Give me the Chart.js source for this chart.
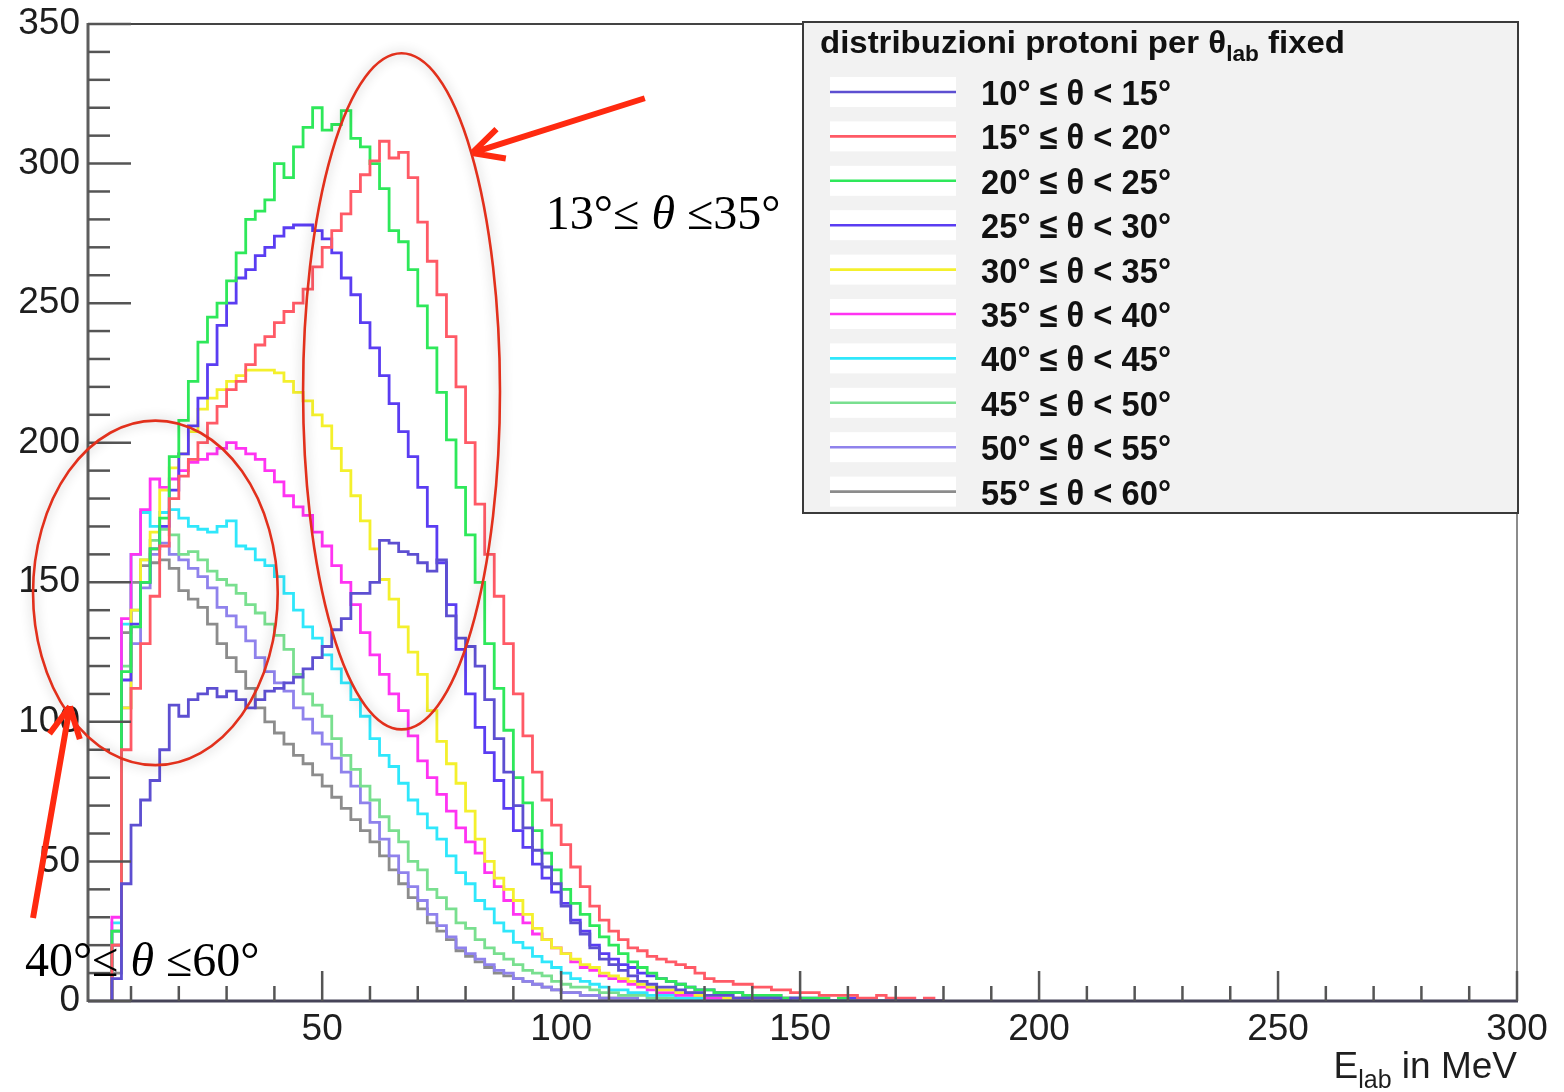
<!DOCTYPE html>
<html>
<head>
<meta charset="utf-8">
<title>distribuzioni protoni per θlab fixed</title>
<script src="https://cdn.jsdelivr.net/npm/chart.js@4.4.1/dist/chart.umd.min.js"></script>
<style>
  html, body { margin: 0; padding: 0; background: #fff; }
  canvas { display: block; }
</style>
</head>
<body>
<canvas id="spectra" width="1564" height="1092"></canvas>
<script>
// Proton energy spectra, one histogram per lab-angle slice (2 MeV bins from 6 MeV)
const BIN_START = 6;
const BIN_WIDTH = 2;
const thetaEdges = [10, 15, 20, 25, 30, 35, 40, 45, 50, 55, 60];
const xTickValues = [50, 100, 150, 200, 250, 300];
const yTickValues = [0, 50, 100, 150, 200, 250, 300, 350];

const counts10 = [
  8, 42, 63, 72, 79, 90, 106, 102, 108, 110,
  112, 109, 111, 108, 105, 108, 111, 112, 114, 116,
  119, 123, 127, 133, 137, 146, 146, 150, 165, 164,
  161, 160, 157, 154, 158, 138, 130, 127, 120, 108,
  94, 82, 70, 62, 54, 48, 42, 34, 28, 24,
  19, 15, 13, 11, 9, 7, 6, 5, 5, 4,
  3, 3, 2, 2, 2, 1, 1, 1, 1, 1,
  0, 1, 0, 0, 0, 0, 0, 0, 0, 0,
  0, 0, 0, 0, 0, 0, 0];
const counts15 = [
  20, 90, 112, 128, 145, 163, 180, 188, 194, 200,
  207, 213, 219, 222, 228, 235, 238, 243, 247, 250,
  255, 263, 270, 276, 282, 290, 296, 301, 308, 302,
  304, 295, 279, 265, 253, 238, 220, 200, 178, 160,
  145, 128, 110, 95, 82, 72, 63, 56, 48, 41,
  34, 29, 25, 22, 19, 18, 16, 15, 14, 13,
  12, 10, 8, 7, 7, 6, 6, 5, 5, 4,
  4, 3, 3, 3, 2, 2, 2, 2, 1, 1,
  2, 1, 1, 1, 0, 1, 0];
const counts20 = [
  25, 118, 134, 150, 162, 173, 195, 208, 222, 236,
  245, 250, 258, 268, 280, 283, 287, 300, 295, 306,
  313, 320, 312, 314, 319, 309, 306, 300, 291, 276,
  272, 262, 249, 234, 218, 201, 184, 167, 150, 128,
  112, 97, 80, 71, 61, 53, 47, 40, 35, 31,
  27, 23, 20, 17, 14, 12, 10, 8, 7, 6,
  5, 4, 4, 3, 3, 3, 2, 2, 2, 2,
  1, 1, 1, 1, 1, 0, 1, 0, 0, 0,
  0, 0, 0, 0, 0, 0, 0];
const counts25 = [
  20, 115, 135, 150, 162, 170, 183, 196, 206, 216,
  228, 242, 250, 259, 262, 267, 270, 274, 277, 278,
  278, 276, 273, 268, 259, 253, 243, 234, 224, 214,
  204, 195, 184, 170, 157, 142, 126, 110, 98, 89,
  79, 69, 61, 55, 49, 44, 39, 35, 29, 25,
  20, 17, 15, 13, 12, 10, 9, 8, 7, 6,
  5, 4, 4, 3, 3, 3, 2, 2, 2, 2,
  1, 1, 1, 1, 1, 0, 0, 1, 0, 0,
  0, 0, 0, 0, 0, 0, 0];
const counts30 = [
  20, 105, 140, 158, 168, 183, 191, 196, 204, 212,
  216, 219, 222, 224, 226, 226, 226, 225, 222, 218,
  215, 210, 206, 198, 190, 181, 172, 162, 151, 144,
  134, 125, 117, 104, 93, 85, 78, 68, 58, 50,
  44, 40, 36, 31, 26, 22, 19, 17, 15, 13,
  12, 10, 9, 8, 7, 6, 5, 4, 4, 3,
  3, 2, 2, 2, 1, 1, 1, 1, 1, 0,
  1, 0, 0, 0, 0, 0, 0, 0, 0, 0,
  0, 0, 0, 0, 0, 0, 0];
const counts35 = [
  30, 137, 160, 176, 187, 184, 187, 190, 193, 194,
  196, 198, 200, 198, 196, 194, 190, 186, 181, 177,
  174, 168, 163, 156, 150, 142, 132, 124, 117, 110,
  104, 95, 86, 80, 74, 68, 62, 57, 53, 46,
  41, 36, 31, 28, 24, 22, 19, 17, 14, 12,
  11, 9, 8, 7, 6, 5, 4, 3, 3, 2,
  2, 2, 1, 1, 1, 1, 1, 0, 1, 0,
  0, 0, 0, 0, 0, 0, 0, 0, 0, 0,
  0, 0, 0, 0, 0, 0, 0];
const counts40 = [
  28, 135, 160, 175, 170, 175, 176, 173, 170, 169,
  168, 170, 172, 163, 162, 158, 156, 152, 146, 140,
  134, 130, 124, 119, 114, 108, 102, 94, 88, 84,
  78, 72, 67, 62, 58, 52, 46, 42, 36, 33,
  28, 25, 21, 19, 16, 14, 12, 10, 8, 7,
  6, 5, 4, 4, 3, 3, 2, 2, 2, 1,
  1, 1, 1, 1, 0, 1, 0, 0, 0, 0,
  0, 0, 0, 0, 0, 0, 0, 0, 0, 0,
  0, 0, 0, 0, 0, 0, 0];
const counts45 = [
  25, 120, 140, 158, 165, 169, 167, 160, 161, 158,
  154, 151, 149, 146, 142, 139, 135, 131, 126, 117,
  110, 106, 102, 94, 88, 83, 77, 72, 66, 61,
  57, 50, 47, 40, 37, 33, 28, 26, 22, 19,
  17, 15, 13, 11, 10, 9, 7, 6, 5, 5,
  4, 3, 3, 2, 2, 2, 1, 1, 1, 1,
  1, 0, 1, 0, 0, 0, 0, 0, 0, 0,
  0, 0, 0, 0, 0, 0, 0, 0, 0, 0,
  0, 0, 0, 0, 0, 0, 0];
const counts50 = [
  25, 105, 128, 148, 160, 164, 160, 158, 155, 152,
  148, 141, 138, 134, 129, 123, 118, 114, 111, 105,
  101, 96, 92, 87, 82, 77, 71, 64, 58, 52,
  46, 41, 36, 31, 27, 23, 19, 17, 15, 13,
  11, 10, 8, 7, 6, 5, 4, 3, 3, 2,
  2, 1, 1, 1, 1, 0, 1, 0, 0, 0,
  0, 0, 0, 0, 0, 0, 0, 0, 0, 0,
  0, 0, 0, 0, 0, 0, 0, 0, 0, 0,
  0, 0, 0, 0, 0, 0, 0];
const counts55 = [
  10, 132, 150, 156, 157, 158, 155, 147, 144, 141,
  135, 128, 123, 118, 112, 105, 100, 96, 92, 88,
  85, 81, 77, 73, 69, 65, 61, 57, 52, 47,
  42, 37, 33, 28, 25, 22, 18, 16, 14, 12,
  10, 9, 8, 7, 6, 5, 4, 3, 3, 2,
  2, 1, 1, 1, 1, 0, 0, 1, 0, 0,
  0, 0, 0, 0, 0, 0, 0, 0, 0, 0,
  0, 0, 0, 0, 0, 0, 0, 0, 0, 0,
  0, 0, 0, 0, 0, 0, 0];

const allCounts = [counts10, counts15, counts20, counts25, counts30,
  counts35, counts40, counts45, counts50, counts55];
const lineColors = ['#5d4fd1', '#ff5a66', '#2ee85a', '#5a3df2', '#f4f02c',
  '#ff33f2', '#2fe7fb', '#79df8f', '#8f82ec', '#8c8c8c'];

// hand-drawn markup on top of the plot, in axis units (MeV, counts)
const forwardRing = { e: 66.6, n: 218.4, de: 20.6, dn: 121.1 };
const wideRing = { e: 15.1, n: 146.2, de: 25.6, dn: 61.7 };
const forwardArrow = { from: [117.5, 323.4], to: [81.4, 303.8] };
const wideArrow = { from: [-10.5, 29.7], to: [-2.8, 105.5] };
const forwardNote = { e: 96.8, n: 276.6, pre: '13°≤ ', post: ' ≤35°' };
const wideNote = { e: -12.2, n: 8.9, pre: '40°≤ ', post: ' ≤60°' };

const SANS = '"Liberation Sans", Arial, Helvetica, sans-serif';
const SERIF = '"Liberation Serif", "Times New Roman", serif';

function histogramPoints(counts) {
  const pts = [{ x: BIN_START, y: 0 }];
  counts.forEach((c, i) => pts.push({ x: BIN_START + i * BIN_WIDTH, y: c }));
  pts.push({ x: BIN_START + counts.length * BIN_WIDTH, y: 0 });
  return pts;
}

const datasets = allCounts.map((counts, i) => ({
  label: `${thetaEdges[i]}° ≤ θ < ${thetaEdges[i + 1]}°`,
  data: histogramPoints(counts),
  borderColor: lineColors[i],
  borderWidth: 2.8,
  stepped: 'before',
  fill: false,
  pointRadius: 0,
}));

// draws a run of differently styled text pieces, optionally squeezed to a width
function drawParts(ctx, parts, x, baseline, fitWidth) {
  ctx.save();
  let total = 0;
  parts.forEach((p) => {
    ctx.font = p.font;
    p.w = ctx.measureText(p.text).width;
    total += p.w;
  });
  const sx = fitWidth ? fitWidth / total : 1;
  ctx.translate(x, baseline);
  ctx.scale(sx, 1);
  let cx = 0;
  parts.forEach((p) => {
    ctx.font = p.font;
    ctx.fillText(p.text, cx, p.dy || 0);
    cx += p.w;
  });
  ctx.restore();
}

function line(ctx, x0, y0, x1, y1) {
  ctx.beginPath();
  ctx.moveTo(x0, y0);
  ctx.lineTo(x1, y1);
  ctx.stroke();
}

function drawArrow(ctx, x0, y0, x1, y1) {
  const ang = Math.atan2(y0 - y1, x0 - x1);
  ctx.beginPath();
  ctx.moveTo(x0, y0);
  ctx.lineTo(x1, y1);
  [-0.47, 0.47].forEach((d) => {
    ctx.moveTo(x1, y1);
    ctx.lineTo(x1 + 34 * Math.cos(ang + d), y1 + 34 * Math.sin(ang + d));
  });
  ctx.stroke();
}

function drawFrame(chart) {
  const { ctx, chartArea: a, scales: { x, y } } = chart;
  ctx.save();
  ctx.lineCap = 'butt';
  ctx.strokeStyle = '#666';
  ctx.lineWidth = 1.5;
  line(ctx, a.right, a.top, a.right, a.bottom);
  ctx.strokeStyle = '#444';
  ctx.lineWidth = 2;
  line(ctx, a.left, a.top, a.right, a.top);
  ctx.strokeStyle = '#5e5e5e';
  ctx.lineWidth = 3;
  line(ctx, a.left, a.top - 1, a.left, a.bottom + 1);
  ctx.strokeStyle = '#464458';
  line(ctx, a.left, a.bottom, a.right + 1, a.bottom);

  // inward ticks, ROOT style
  ctx.strokeStyle = '#555';
  ctx.lineWidth = 2.5;
  for (let v = 0; v <= 350; v += 10) {
    const py = y.getPixelForValue(v);
    line(ctx, a.left, py, a.left + (v % 50 === 0 ? 43 : 22), py);
  }
  for (let v = 10; v <= 300; v += 10) {
    const px = x.getPixelForValue(v);
    line(ctx, px, a.bottom, px, a.bottom - (v % 50 === 0 ? 30 : 15));
  }
  ctx.restore();
}

function drawAxisTitle(chart) {
  const { ctx, chartArea: a } = chart;
  ctx.save();
  ctx.fillStyle = '#1e1e1e';
  const parts = [
    { text: 'E', font: `37px ${SANS}` },
    { text: 'lab', font: `25px ${SANS}`, dy: 10 },
    { text: ' in MeV', font: `37px ${SANS}` },
  ];
  let w = 0;
  parts.forEach((p) => { ctx.font = p.font; w += ctx.measureText(p.text).width; });
  drawParts(ctx, parts, a.right - w, a.bottom + 77);
  ctx.restore();
}

function drawLegend(chart) {
  const { ctx, chartArea: a } = chart;
  const left = 803;
  const top = 22;
  const right = a.right + 1;
  const bottom = 513;
  ctx.save();
  ctx.fillStyle = '#f2f2f2';
  ctx.fillRect(left, top, right - left, bottom - top);
  ctx.strokeStyle = '#3a3a3a';
  ctx.lineWidth = 2;
  ctx.strokeRect(left, top, right - left, bottom - top);

  ctx.fillStyle = '#111';
  drawParts(ctx, [
    { text: 'distribuzioni protoni per θ', font: `bold 32px ${SANS}` },
    { text: 'lab', font: `bold 22px ${SANS}`, dy: 8 },
    { text: ' fixed', font: `bold 32px ${SANS}` },
  ], 820, 53, 525);

  chart.data.datasets.forEach((ds, i) => {
    const cy = 92 + i * 44.4;
    ctx.fillStyle = '#fff';
    ctx.fillRect(830, cy - 15, 126, 30);
    ctx.strokeStyle = ds.borderColor;
    ctx.lineWidth = 2.6;
    line(ctx, 830, cy, 956, cy);
    ctx.fillStyle = '#111';
    drawParts(ctx, [{ text: ds.label, font: `bold 35px ${SANS}` }], 981, cy + 13, 190);
  });
  ctx.restore();
}

function drawMarkup(chart) {
  const { ctx, scales: { x, y } } = chart;
  const px = (e) => x.getPixelForValue(e);
  const py = (n) => y.getPixelForValue(n);
  ctx.save();

  // rings with a soft drop shadow
  ctx.shadowColor = 'rgba(0, 0, 0, 0.3)';
  ctx.shadowBlur = 12;
  ctx.strokeStyle = '#e2301c';
  ctx.lineWidth = 2.6;
  [forwardRing, wideRing].forEach((r) => {
    const cx = px(r.e);
    const cy = py(r.n);
    ctx.beginPath();
    ctx.ellipse(cx, cy, px(r.e + r.de) - cx, cy - py(r.n + r.dn), 0, 0, Math.PI * 2);
    ctx.stroke();
  });
  ctx.shadowColor = 'transparent';
  ctx.shadowBlur = 0;

  ctx.strokeStyle = '#ff2a10';
  ctx.lineWidth = 6;
  ctx.lineJoin = 'miter';
  [forwardArrow, wideArrow].forEach((ar) => {
    drawArrow(ctx, px(ar.from[0]), py(ar.from[1]), px(ar.to[0]), py(ar.to[1]));
  });

  ctx.fillStyle = '#000';
  [forwardNote, wideNote].forEach((nt) => {
    drawParts(ctx, [
      { text: nt.pre, font: `48px ${SERIF}` },
      { text: 'θ', font: `italic 48px ${SERIF}` },
      { text: nt.post, font: `48px ${SERIF}` },
    ], px(nt.e), py(nt.n));
  });
  ctx.restore();
}

const rootStyle = {
  id: 'rootStyle',
  afterDraw(chart) {
    drawFrame(chart);
    drawAxisTitle(chart);
    drawLegend(chart);
    drawMarkup(chart);
  },
};

const tickFont = { family: SANS, size: 37, lineHeight: 1.2 };

new Chart(document.getElementById('spectra'), {
  type: 'line',
  data: { datasets },
  options: {
    responsive: false,
    animation: false,
    devicePixelRatio: 1,
    events: [],
    layout: { padding: { top: 24, right: 47, bottom: 0, left: 0 } },
    plugins: { legend: { display: false }, tooltip: { enabled: false } },
    elements: { line: { tension: 0 } },
    scales: {
      x: {
        type: 'linear',
        min: 1,
        max: 300,
        grid: { display: false, drawTicks: false },
        border: { display: false },
        afterBuildTicks: (s) => { s.ticks = xTickValues.map((value) => ({ value })); },
        afterFit: (s) => {
          s.height = 91;
          s.paddingLeft = 0;
          s.paddingRight = 0;
        },
        ticks: { autoSkip: false, maxRotation: 0, padding: 7, color: '#1e1e1e', font: tickFont },
      },
      y: {
        type: 'linear',
        min: 0,
        max: 350,
        grid: { display: false, drawTicks: false },
        border: { display: false },
        afterBuildTicks: (s) => { s.ticks = yTickValues.map((value) => ({ value })); },
        afterFit: (s) => {
          s.width = 88;
          s.paddingTop = 0;
          s.paddingBottom = 0;
        },
        ticks: { autoSkip: false, padding: 8, color: '#1e1e1e', font: tickFont },
      },
    },
  },
  plugins: [rootStyle],
});
</script>
</body>
</html>
